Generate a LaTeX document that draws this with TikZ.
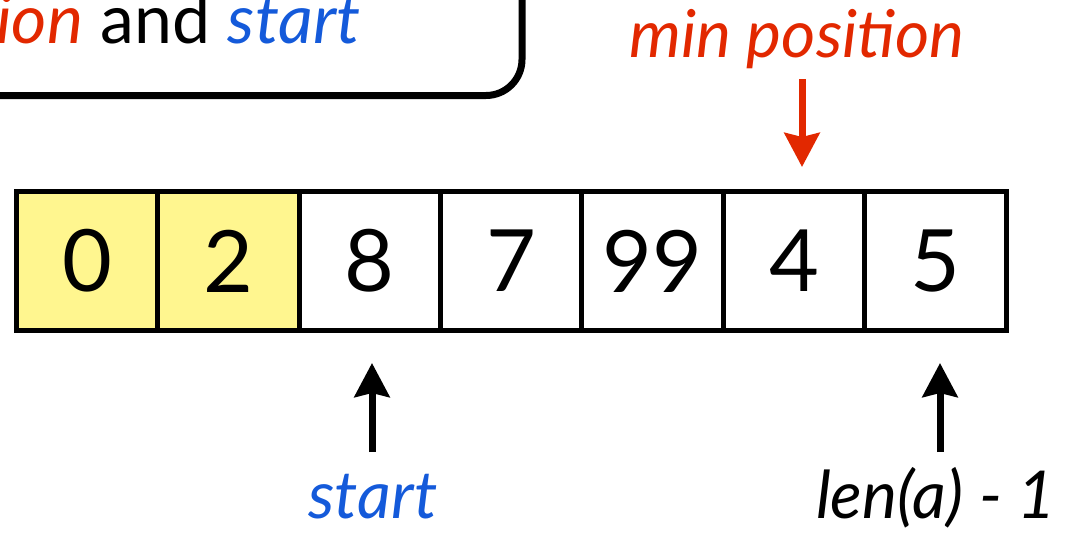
\documentclass[tikz,border=0pt]{standalone}
\usepackage{fontspec}
\setmainfont{Lato}
\usetikzlibrary{arrows.meta}
\definecolor{hired}{RGB}{226,40,0}
\definecolor{hiblue}{RGB}{20,90,218}
\definecolor{cellyellow}{RGB}{255,246,143}
\tikzset{
  cellbox/.style={draw=black, line width=5pt, minimum width=141.36pt, minimum height=139pt, inner sep=0pt, font=\fontsize{86}{86}\selectfont},
  hl/.style={fill=cellyellow},
  lbl/.style={inner sep=0pt, font=\fontsize{66}{66}\selectfont\itshape},
  arr/.style={line width=7pt, -{Stealth[length=34pt,width=35pt,inset=4pt]}},
}
\begin{document}
\begin{tikzpicture}[x=1pt,y=-1pt]
\useasboundingbox (0,0) rectangle (1071,536);
\clip (0,0) rectangle (1071,536);
% top note box (partly outside)
\draw[line width=7pt, rounded corners=36pt] (-60,-60) rectangle (522,95.5);
\node[inner sep=0pt, font=\fontsize{68}{68}\selectfont, anchor=base west] (note) at (-4,43)
  {{\itshape\color{hired}ion} and {\itshape\color{hiblue}start}};
% array cells
\node[cellbox,hl] (c1) at (87.18,261) {0};
\node[cellbox,hl] (c2) at (228.54,261) {2};
\node[cellbox] (c3) at (369.9,261) {8};
\node[cellbox] (c4) at (511.26,261) {7};
\node[cellbox] (c5) at (652.62,261) {99};
\node[cellbox] (c6) at (793.98,261) {4};
\node[cellbox] (c7) at (935.34,261) {5};
% labels
\node[lbl, text=hired, anchor=base] (minlbl) at (797,57) {min position};
\node[lbl, text=hiblue, anchor=base] (startlbl) at (373,518) {start};
\node[lbl, text=black, anchor=base] (lenlbl) at (936,518) {len(a) - 1};
% arrows
\coordinate (mt) at (802,79);
\coordinate (st) at (372,452);
\coordinate (lt) at (940,452);
\draw[arr, draw=hired, shorten >=22pt] (mt) -- (mt |- c6.north);
\draw[arr, shorten >=30pt] (st) -- (st |- c3.south);
\draw[arr, shorten >=30pt] (lt) -- (lt |- c7.south);
\end{tikzpicture}
\end{document}
